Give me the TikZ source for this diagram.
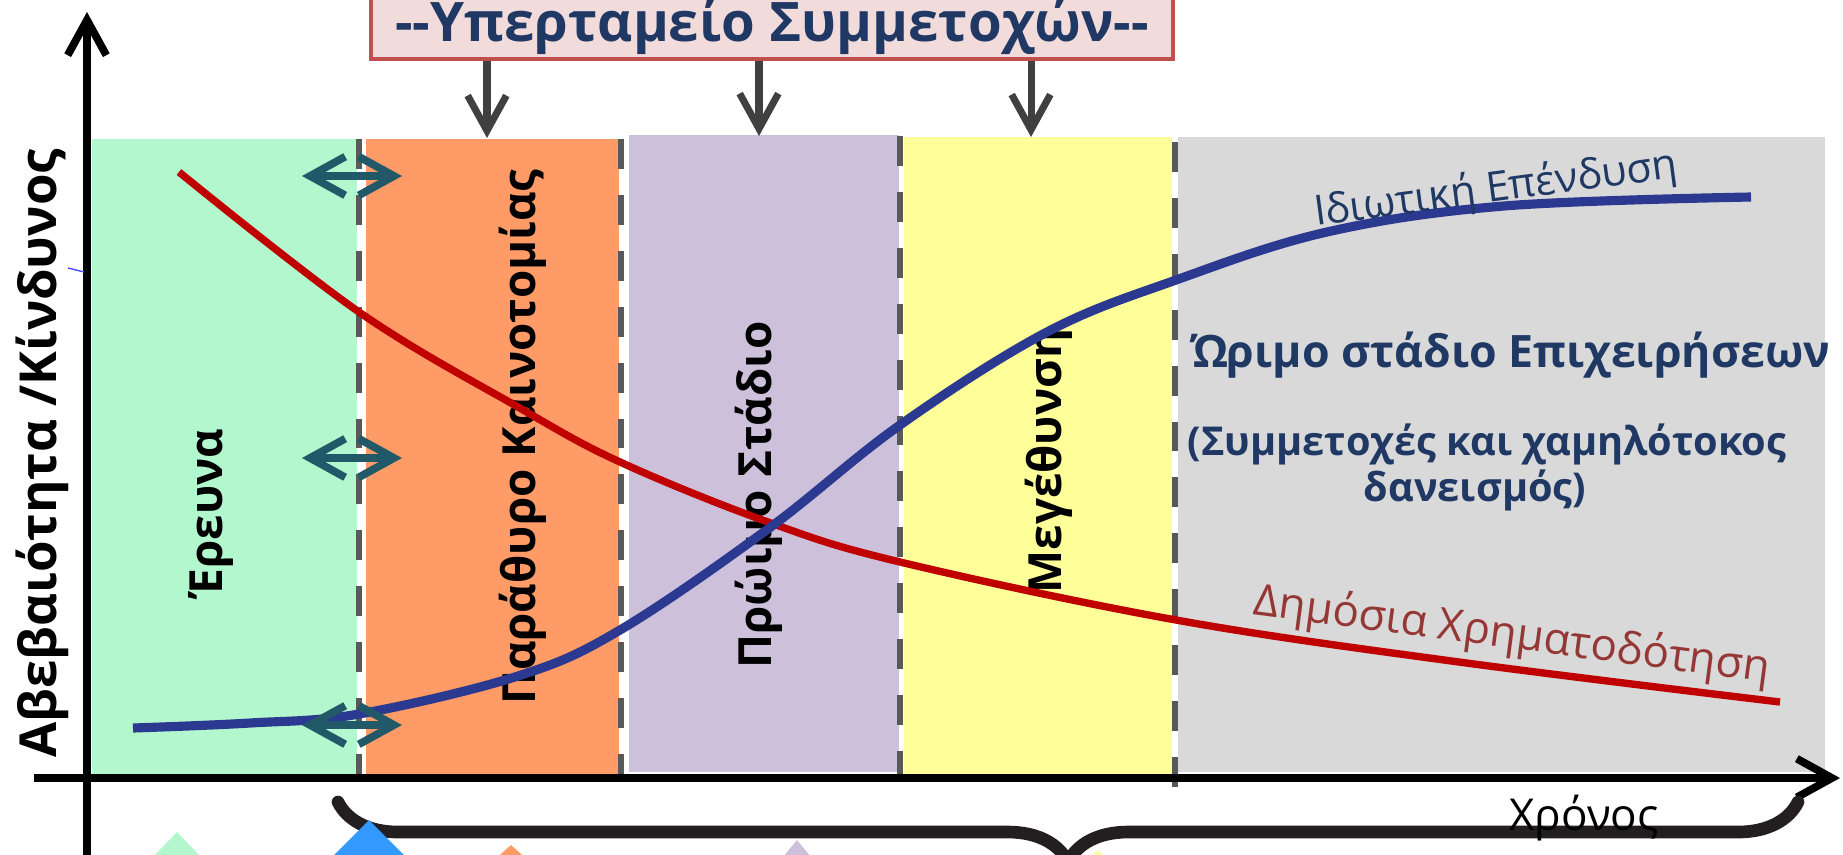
\documentclass[tikz,border=0pt]{standalone}
\usepackage{fontspec}
\setmainfont{Open Sans}
\usetikzlibrary{arrows.meta,decorations.pathreplacing}
\definecolor{bandgreen}{RGB}{179,247,206}
\definecolor{bandorange}{RGB}{255,155,102}
\definecolor{bandpurple}{RGB}{204,192,218}
\definecolor{bandyellow}{RGB}{255,255,153}
\definecolor{bandgray}{RGB}{217,217,217}
\definecolor{divgray}{RGB}{89,89,89}
\definecolor{arrowgray}{RGB}{64,64,64}
\definecolor{swapteal}{RGB}{33,89,104}
\definecolor{titlepink}{RGB}{242,220,219}
\definecolor{titlered}{RGB}{192,80,77}
\definecolor{navy}{RGB}{31,56,100}
\definecolor{publicred}{RGB}{149,55,53}
\definecolor{riskred}{RGB}{192,0,0}
\definecolor{privblue}{RGB}{43,57,144}
\definecolor{tipblue}{RGB}{51,153,255}
\definecolor{bracegray}{RGB}{35,31,32}
\begin{document}
\begin{tikzpicture}[x=0.01cm,y=-0.01cm,
    stagelabel/.style={rotate=90,font=\bfseries\fontsize{13}{15}\selectfont},
    divider/.style={draw=divgray,line width=1.7pt,dash pattern=on 8.5pt off 7.4pt},
    fundarrow/.style={draw=arrowgray,line width=2pt,-{Straight Barb[length=10pt,width=11pt]}},
    swaparrow/.style={draw=swapteal,line width=2.2pt,line cap=round,
      {Straight Barb[length=10pt,width=11pt]}-{Straight Barb[length=10pt,width=11pt]}},
    axisline/.style={line width=2.2pt,-{Straight Barb[length=10pt,width=11pt]}},
    riskcurve/.style={line width=2.1pt,smooth,tension=0.6}]
  \useasboundingbox (0,0) rectangle (1843,854);
  \clip (0,0) rectangle (1843,854);
  \fill[bandgreen] (92,139) rectangle (357,775);
  \fill[bandorange] (366,139) rectangle (619,775);
  \fill[bandpurple] (629,135) rectangle (899,772);
  \fill[bandyellow] (904,137) rectangle (1172,778);
  \fill[bandgray] (1178,137) rectangle (1825,772);
  \draw[divider] (359,139) -- (359,778);
  \draw[divider] (621,139) -- (621,778);
  \draw[divider] (900,136) -- (900,778);
  \draw[divider] (1175,142) -- (1175,790);
  \node[stagelabel] (research) at (211,513) {Έρευνα};
  \node[stagelabel] (window) at (523,437) {Παράθυρο Καινοτομίας};
  \node[stagelabel] (early) at (759,495) {Πρώιμο Στάδιο};
  \node[stagelabel] (growth) at (1049,461) {Μεγέθυνση};
  \draw[riskred,riskcurve] plot coordinates {(179,172) (359,312) (518,407) (620,462)
    (768,522) (900,562) (1176,620) (1459,662) (1780,702)};
  \draw[privblue,riskcurve,line width=2.6pt] plot coordinates {(133,728) (250,723) (359,714)
    (518,676) (620,630) (768,529) (900,425) (1047,332) (1176,280) (1327,232) (1504,206) (1751,197)};
  \draw[fill=titlepink,draw=titlered,line width=1.4pt] (371,-30) rectangle (1173,59);
  \node[text=navy,font=\bfseries\fontsize{15.5}{18}\selectfont,anchor=base] (fund) at (772,41)
    {-{}-Υπερταμείο Συμμετοχών-{}-};
  \coordinate (boxbottom) at (772,61);
  \coordinate (windowtop) at (487,138);
  \coordinate (earlytop) at (759,136);
  \coordinate (growthtop) at (1031,137);
  \draw[fundarrow] (boxbottom -| windowtop) -- (windowtop);
  \draw[fundarrow] (boxbottom -| earlytop) -- (earlytop);
  \draw[fundarrow] (boxbottom -| growthtop) -- (growthtop);
  \coordinate (swapa1) at (302,176);
  \coordinate (swapb1) at (402,176);
  \coordinate (swapa2) at (302,458);
  \coordinate (swapb2) at (402,458);
  \coordinate (swapa3) at (302,725);
  \coordinate (swapb3) at (402,725);
  \draw[swaparrow] (swapa1) -- (swapb1);
  \draw[swaparrow] (swapa2) -- (swapb2);
  \draw[swaparrow] (swapa3) -- (swapb3);
  \coordinate (xstart) at (34,778);
  \coordinate (xend) at (1840,778);
  \coordinate (ybottom) at (87,860);
  \coordinate (ytop) at (87,12);
  \draw[axisline] (xstart) -- (xend);
  \draw[axisline] (ybottom) -- (ytop);
  \draw[blue!70!white,line width=0.4pt] (68,268) -- (84,272);
  \node[rotate=90,font=\bfseries\fontsize{14.5}{18}\selectfont] (risk) at (42,453)
    {Αβεβαιότητα /Κίνδυνος};
  \node[rotate=7.6,text=navy,font=\fontsize{11.8}{14}\selectfont] (private) at (1496,190)
    {Ιδιωτική Επένδυση};
  \node[rotate=-7.5,text=publicred,font=\fontsize{12.5}{15}\selectfont] (public) at (1512,636)
    {Δημόσια Χρηματοδότηση};
  \node[text=navy,font=\bfseries\fontsize{12.7}{15}\selectfont,anchor=base] (mature) at (1511,367)
    {Ώριμο στάδιο Επιχειρήσεων};
  \node[text=navy,font=\bfseries\fontsize{11.3}{13}\selectfont,anchor=base] (mixa) at (1487,455)
    {(Συμμετοχές και χαμηλότοκος};
  \node[text=navy,font=\bfseries\fontsize{11.3}{13}\selectfont,anchor=base] (mixb) at (1475,501)
    {δανεισμός)};
  \draw[bracegray,line width=3.6pt,line cap=round,decorate,decoration={brace,amplitude=0.6cm}]
    (1798,802) -- (338,802);
  \node[font=\fontsize{12.5}{15}\selectfont] (time) at (1584,818) {Χρόνος};
  \fill[bandgreen] (177,832) -- (223,880) -- (131,880) -- cycle;
  \fill[tipblue] (369,820) -- (429,880) -- (309,880) -- cycle;
  \fill[bandorange] (511,845) -- (550,880) -- (472,880) -- cycle;
  \fill[bandpurple] (797,840) -- (830,880) -- (764,880) -- cycle;
  \fill[bandyellow] (1098,850) -- (1125,880) -- (1071,880) -- cycle;
\end{tikzpicture}
\end{document}
